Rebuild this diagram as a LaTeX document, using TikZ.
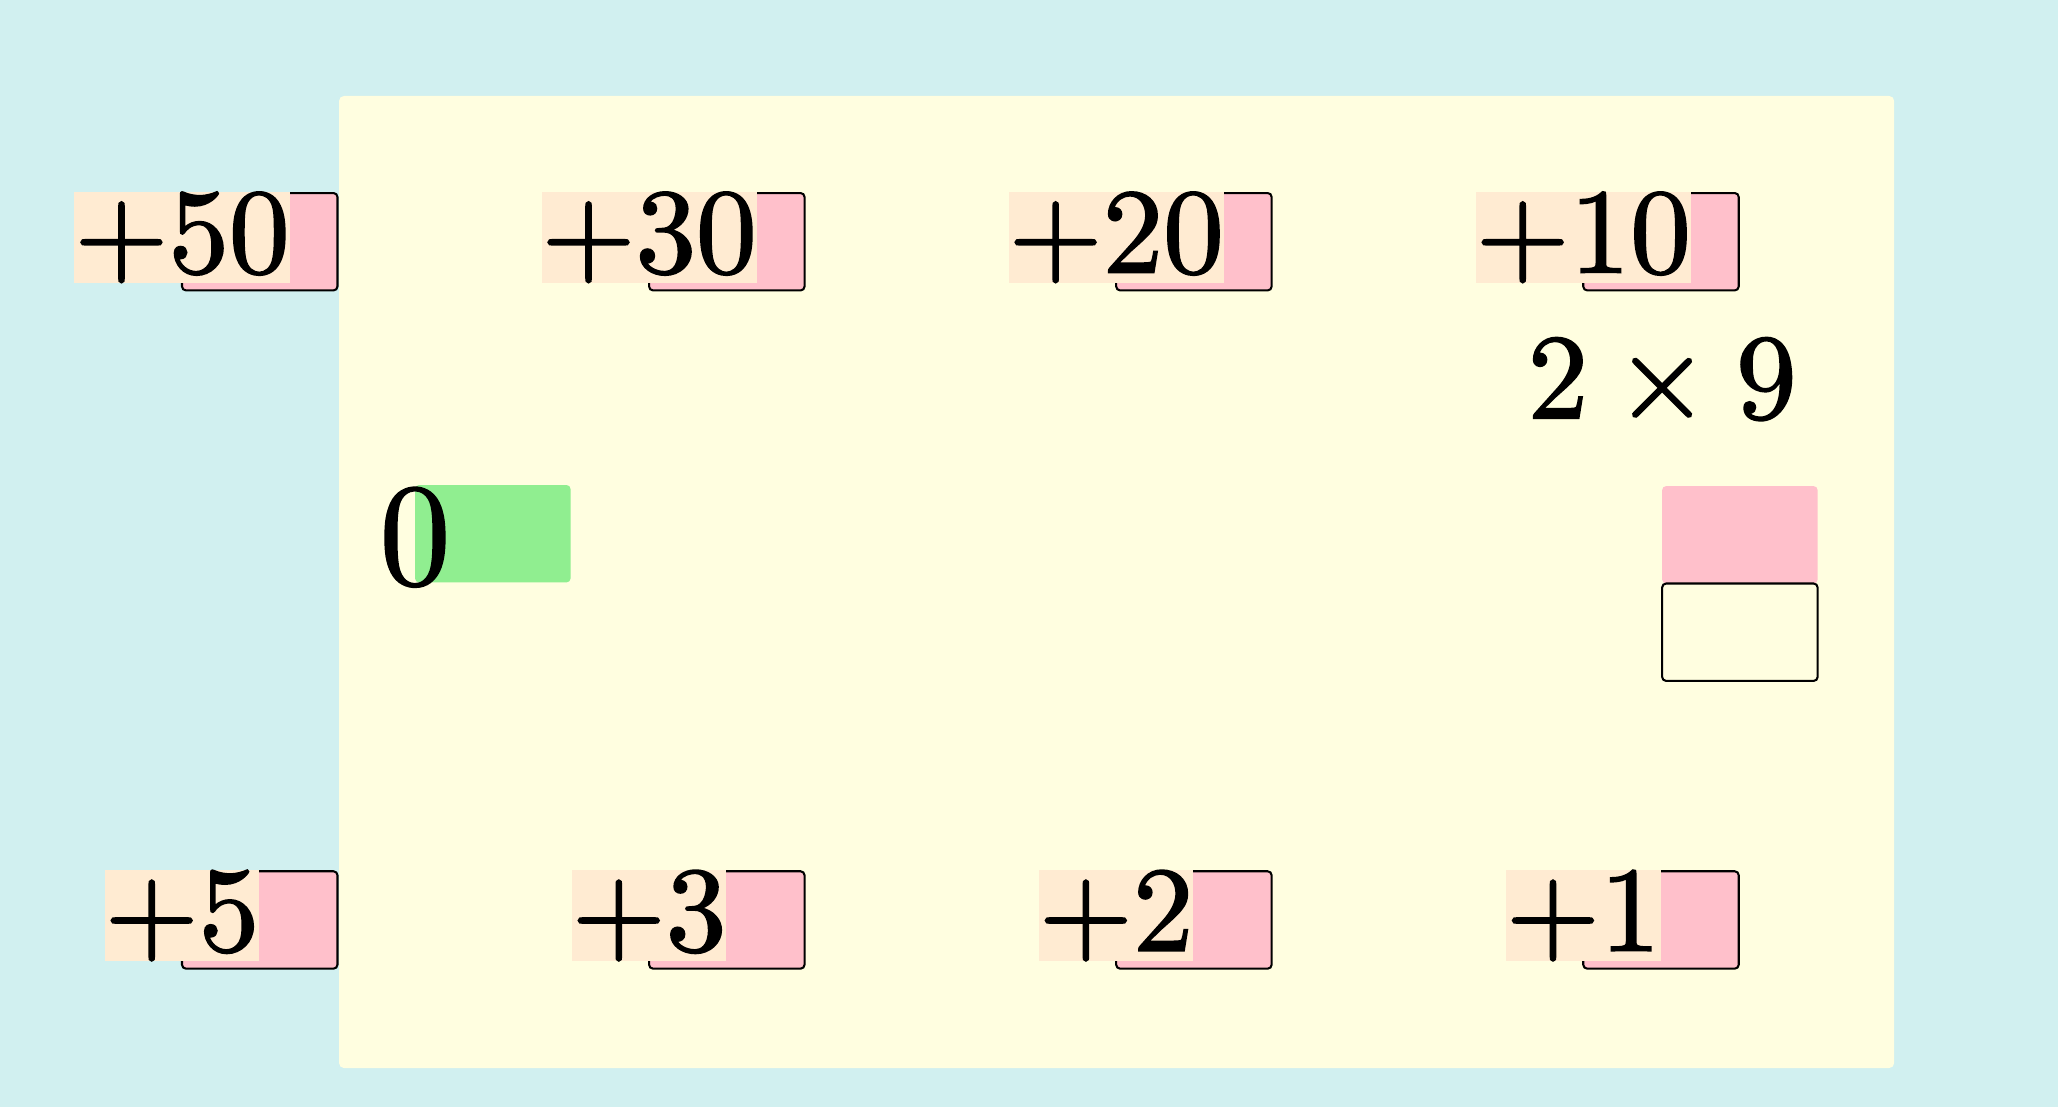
\documentclass[tikz,border=0pt]{standalone}
\usepackage{xcolor}
\usepackage{tikz}
\usepackage{fontspec}
\usetikzlibrary{positioning}
\newfontfamily\numfont{Latin Modern Roman}[FakeBold=1.5]
\definecolor{bgcyan}{HTML}{D1F0F0}
\definecolor{paneyellow}{HTML}{FFFEE0}
\definecolor{slotpink}{HTML}{FFC0CB}
\definecolor{tagbeige}{HTML}{FFEBD2}
\definecolor{zerogreen}{HTML}{90EE90}

\begin{document}
\begin{tikzpicture}[
    slot/.style={fill=slotpink, draw=black, line width=0.17pt, rounded corners=0.33pt,
      minimum width=12.85pt, minimum height=8.05pt, inner sep=0pt, outer sep=0pt,
      anchor=north west},
    tag/.style={fill=tagbeige, inner sep=0pt, outer sep=0pt, anchor=north, font=\numfont},
    every node/.append style={font=\numfont}]
  % canvas and panel
  \fill[bgcyan] (0,0) rectangle (170.08pt,-91.49pt);
  \useasboundingbox (0,0) rectangle (170.08pt,-91.49pt);
  \fill[paneyellow, rounded corners=0.4pt] (28.02pt,-7.93pt) rectangle (156.53pt,-88.26pt);

  % top row
  \node[slot] (s50) at (15.04pt,-15.95pt) {};
  \node[slot, right=25.75pt of s50] (s30) {};
  \node[slot, right=25.75pt of s30] (s20) {};
  \node[slot, right=25.75pt of s20] (s10) {};
  \node[tag] at ([yshift=0.09pt]s50.north west) {+50};
  \node[tag] at ([yshift=0.09pt]s30.north west) {+30};
  \node[tag] at ([yshift=0.09pt]s20.north west) {+20};
  \node[tag] at ([yshift=0.09pt]s10.north west) {+10};

  % bottom row
  \node[slot, below=48pt of s50] (s5) {};
  \node[slot, right=25.75pt of s5] (s3) {};
  \node[slot, right=25.75pt of s3] (s2) {};
  \node[slot, right=25.75pt of s2] (s1) {};
  \node[tag] at ([yshift=0.09pt]s5.north west) {+5};
  \node[tag] at ([yshift=0.09pt]s3.north west) {+3};
  \node[tag] at ([yshift=0.09pt]s2.north west) {+2};
  \node[tag] at ([yshift=0.09pt]s1.north west) {+1};

  % start value
  \node[slot, fill=zerogreen, draw=none] (zero) at (34.30pt,-40.08pt) {};
  \node[inner sep=0pt, anchor=north, font=\large\numfont] at (zero.north west) {0};

  % target and answer
  \node[slot, draw=none] (target) at (137.36pt,-40.17pt) {};
  \node[slot, fill=none, below=0pt of target] (answer) {};
  \node[inner sep=0pt, anchor=base] (task) at ([yshift=5.62pt]target.north west)
    {2\hspace{0.222em}×\hspace{0.222em}9};
\end{tikzpicture}
\end{document}
